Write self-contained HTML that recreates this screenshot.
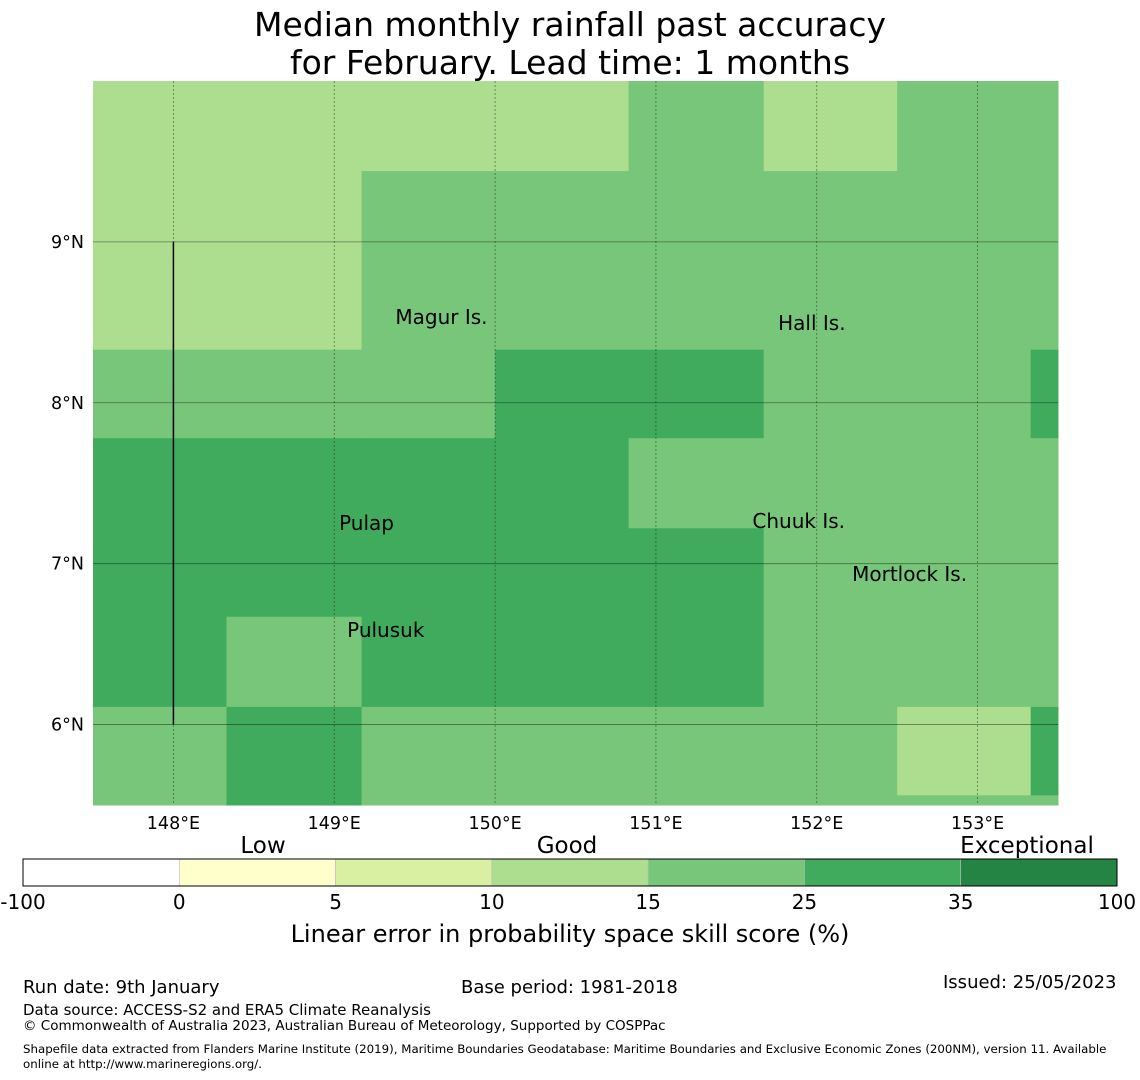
<!DOCTYPE html>
<html><head><meta charset="utf-8"><style>
body{margin:0;background:#fff;width:1140px;height:1080px;overflow:hidden;font-family:"Liberation Sans","DejaVu Sans",sans-serif}
.t{position:absolute;white-space:nowrap;color:#000}
</style></head><body>
<div class="t" style="left:0;width:1140px;top:6px;text-align:center;font-size:33px;line-height:38px;font-family:'DejaVu Sans',sans-serif">Median monthly rainfall past accuracy<br>for February. Lead time: 1 months</div>
<svg id="map" width="1140" height="960" style="position:absolute;left:0;top:0" font-family="DejaVu Sans, sans-serif"></svg>
<div class="t" style="left:23px;top:977px;font-size:18px;font-family:'DejaVu Sans',sans-serif">Run date: 9th January</div>
<div class="t" style="left:461px;top:977px;font-size:18px;font-family:'DejaVu Sans',sans-serif">Base period: 1981-2018</div>
<div class="t" style="left:943px;top:972px;font-size:18px;font-family:'DejaVu Sans',sans-serif">Issued: 25/05/2023</div>
<div class="t" style="left:23px;top:1001px;font-size:15px;font-family:'DejaVu Sans',sans-serif">Data source: ACCESS-S2 and ERA5 Climate Reanalysis</div>
<div class="t" style="left:23px;top:1018px;font-size:13.5px;font-family:'DejaVu Sans',sans-serif">© Commonwealth of Australia 2023, Australian Bureau of Meteorology, Supported by COSPPac</div>
<div class="t" style="left:23px;top:1042px;font-size:11.8px;line-height:15px;font-family:'DejaVu Sans',sans-serif">Shapefile data extracted from Flanders Marine Institute (2019), Maritime Boundaries Geodatabase: Maritime Boundaries and Exclusive Economic Zones (200NM), version 11. Available<br>online at http://www.marineregions.org/.</div>
<script>
const lonTicks=[148,149,150,151,152,153];
const latTicks=[9,8,7,6];
const colEdges=[147.5,148.33,149.17,150,150.83,151.67,152.5,153.33,153.5];
const rowEdges=[10,9.44,8.89,8.33,7.78,7.22,6.67,6.11,5.56,5.5];
const skill=[
[12,12,12,12,20,12,20,20],
[12,12,20,20,20,20,20,20],
[12,12,20,20,20,20,20,20],
[20,20,20,30,30,20,20,30],
[30,30,30,30,20,20,20,20],
[30,30,30,30,30,20,20,20],
[30,20,30,30,30,20,20,20],
[20,30,20,20,20,20,12,30],
[20,30,20,20,20,20,20,20]];
const binEdges=[-100,0,5,10,15,25,35,100];
const binColors=["#ffffff","#ffffcc","#d9f0a3","#addd8e","#78c679","#41ab5d","#238443"];
const places=["Magur Is.","Hall Is.","Pulap","Chuuk Is.","Mortlock Is.","Pulusuk"];
const placeLon=[149.38,151.76,149.03,151.6,152.22,149.08];
const placeLat=[8.533,8.496,7.253,7.265,6.936,6.588];
const X0=93,X1=1058,Y0=81,Y1=805;
const xS=l=>X0+(l-147.5)/(153.5-147.5)*(X1-X0);
const yS=l=>Y0+(10-l)/(10-5.5)*(Y1-Y0);
const svg=document.getElementById('map');const NS="http://www.w3.org/2000/svg";
function mk(t,a,p){const e=document.createElementNS(NS,t);for(const k in a)e.setAttribute(k,a[k]);(p||svg).appendChild(e);return e;}
function col(v){for(let i=0;i<binColors.length;i++)if(v<binEdges[i+1])return binColors[i];return binColors[binColors.length-1];}
for(let r=0;r<skill.length;r++)for(let c=0;c<skill[r].length;c++){
 const x=xS(colEdges[c]),x2=xS(colEdges[c+1]),y=yS(rowEdges[r]),y2=yS(rowEdges[r+1]);
 const e=mk('rect',{x:x,y:y,width:x2-x+0.5,height:y2-y+0.5,fill:col(skill[r][c])});
 
 
}
lonTicks.forEach(l=>{const x=xS(l);
 const g=mk('line',{x1:x,x2:x,y1:Y0,y2:Y1,stroke:'#000','stroke-opacity':0.45,'stroke-width':0.8,'stroke-dasharray':'2,2'});
 
 const t=mk('text',{x:x,y:829,'font-size':17.5,'text-anchor':'middle'});t.textContent=l+'°E';
 });
latTicks.forEach(l=>{const y=yS(l);
 const g=mk('line',{x1:X0,x2:X1,y1:y,y2:y,stroke:'#000','stroke-opacity':0.45,'stroke-width':0.8});
 
 const t=mk('text',{x:84,y:y+6,'font-size':17.5,'text-anchor':'end'});t.textContent=l+'°N';
 });
const bl=mk('line',{x1:xS(148),x2:xS(148),y1:yS(9),y2:yS(6),stroke:'#000','stroke-width':1.5});

places.forEach((p,i)=>{const t=mk('text',{x:xS(placeLon[i]),y:yS(placeLat[i])+7,'font-size':20});t.textContent=p;
 });
// colorbar
const CB0=23,CB1=1117,CY=859,CH=27,n=binColors.length,w=(CB1-CB0)/n;
binColors.forEach((c,i)=>{const r=mk('rect',{x:CB0+i*w,y:CY,width:w,height:CH,fill:c,stroke:'#bbb','stroke-width':0.6});
 });
const fr=mk('rect',{x:CB0,y:CY,width:CB1-CB0,height:CH,fill:'none',stroke:'#000','stroke-width':1});

binEdges.forEach((b,i)=>{const t=mk('text',{x:CB0+i*w,y:909,'font-size':20,'text-anchor':'middle'});t.textContent=b;
 });
[["Low",263],["Good",567],["Exceptional",1027]].forEach(a=>{const t=mk('text',{x:a[1],y:853,'font-size':23,'text-anchor':'middle'});t.textContent=a[0];
 });
const ct=mk('text',{x:570,y:942,'font-size':24,'text-anchor':'middle'});ct.textContent='Linear error in probability space skill score (%)';

</script>
</body></html>
